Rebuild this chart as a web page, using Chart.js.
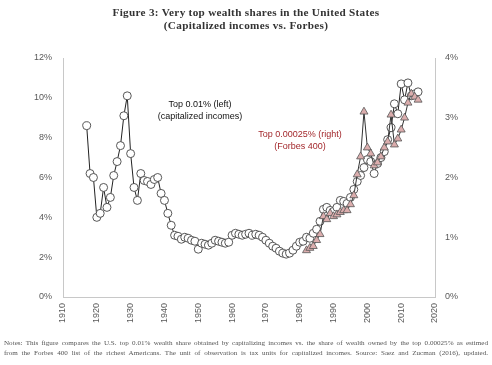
<!DOCTYPE html>
<html>
<head>
<meta charset="utf-8">
<script src="https://cdn.jsdelivr.net/npm/chart.js@4/dist/chart.umd.min.js"></script>
<style>
  html, body { margin:0; padding:0; background:#fff; }
  #wrap { position:relative; width:492px; height:365px; overflow:hidden; }
  #c { position:absolute; left:0; top:0; }
  #title { position:absolute; left:0; top:6px; width:492px; text-align:center;
    font-family:"Liberation Serif", "DejaVu Serif", serif; font-weight:bold; font-size:11.2px; letter-spacing:0.3px; line-height:13px; color:#333; }
  .note { position:absolute; left:4px; width:484px; text-align:justify; text-align-last:justify; white-space:nowrap;
    font-family:"Liberation Serif", "DejaVu Serif", serif; font-size:7.1px; line-height:9px; color:#555; }
</style>
</head>
<body>
<div id="wrap">
  <canvas id="c" width="492" height="365"></canvas>
  <div id="title">Figure 3: Very top wealth shares in the United States<br>(Capitalized incomes vs. Forbes)</div>
  <div class="note" style="top:339px">Notes: This figure compares the U.S. top 0.01% wealth share obtained by capitalizing incomes vs. the share of wealth owned by the top 0.00025% as estimed</div>
  <div class="note" style="top:349px">from the Forbes 400 list of the richest Americans. The unit of observation is tax units for capitalized incomes. Source: Saez and Zucman (2016), updated.</div>
</div>
<script>
// ---- Data ----
const capYears = [1917,1918,1919,1920,1921,1922,1923,1924,1925,1926,1927,1928,1929,1930,1931,1932,1933,1934,1935,1936,1937,1938,1939,1940,1941,1942,1943,1944,1945,1946,1947,1948,1949,1950,1951,1952,1953,1954,1955,1956,1957,1958,1959,1960,1961,1962,1963,1964,1965,1966,1967,1968,1969,1970,1971,1972,1973,1974,1975,1976,1977,1978,1979,1980,1981,1982,1983,1984,1985,1986,1987,1988,1989,1990,1991,1992,1993,1994,1995,1996,1997,1998,1999,2000,2001,2002,2003,2004,2005,2006,2007,2008,2009,2010,2011,2012,2013,2014,2015];
const capShares = [8.6,6.2,6.0,4.0,4.2,5.5,4.5,5.0,6.1,6.8,7.6,9.1,10.1,7.2,5.5,4.85,6.2,5.85,5.8,5.65,5.9,6.0,5.2,4.85,4.2,3.6,3.1,3.05,2.9,3.0,2.95,2.85,2.8,2.4,2.7,2.65,2.6,2.7,2.85,2.8,2.75,2.7,2.75,3.1,3.2,3.15,3.1,3.15,3.2,3.1,3.15,3.1,3.0,2.85,2.7,2.55,2.45,2.3,2.2,2.15,2.2,2.35,2.55,2.75,2.8,3.0,2.95,3.2,3.4,3.8,4.4,4.5,4.35,4.3,4.5,4.85,4.8,4.7,5.0,5.4,5.8,6.1,6.5,6.9,6.8,6.2,6.7,7.0,7.3,7.9,8.5,9.7,9.2,10.7,9.9,10.75,10.1,10.2,10.3];
const forbesYears = [1982,1983,1984,1985,1986,1987,1988,1989,1990,1991,1992,1993,1994,1995,1996,1997,1998,1999,2000,2001,2002,2003,2004,2005,2006,2007,2008,2009,2010,2011,2012,2013,2014,2015];
const forbesShares = [0.78,0.82,0.85,0.95,1.05,1.35,1.3,1.4,1.35,1.38,1.42,1.45,1.45,1.55,1.7,2.05,2.35,3.1,2.5,2.4,2.2,2.25,2.35,2.5,2.6,3.05,2.55,2.65,2.8,3.0,3.25,3.4,3.35,3.3];
const xTicks = [1910,1920,1930,1940,1950,1960,1970,1980,1990,2000,2010,2020];
const leftTicks = [0,2,4,6,8,10,12];
const rightTicks = [0,1,2,3,4];
const labelCap = ["Top 0.01% (left)", "(capitalized incomes)"];
const labelForbes = ["Top 0.00025% (right)", "(Forbes 400)"];

const capData = capYears.map((y,i)=>({x:y, y:capShares[i]}));
const forbesData = forbesYears.map((y,i)=>({x:y, y:forbesShares[i]}));

const tickFont = {family:"'Liberation Sans', Arial, sans-serif", size:9};
const tickColor = '#595959';
const axisColor = '#c8c8c8';

const annot = {
  id:'annot',
  afterDatasetsDraw(chart){
    const {ctx, scales} = chart;
    const xs = scales.x, yl = scales.yL;
    ctx.save();
    ctx.font = "9px 'Liberation Sans', Arial, sans-serif";
    ctx.textAlign = 'center';
    ctx.textBaseline = 'middle';
    ctx.fillStyle = '#111';
    let cx = xs.getPixelForValue(1950.5);
    ctx.fillText(labelCap[0], cx, yl.getPixelForValue(9.64));
    ctx.fillText(labelCap[1], cx, yl.getPixelForValue(9.04));
    ctx.fillStyle = '#a3282c';
    cx = xs.getPixelForValue(1980.1);
    ctx.fillText(labelForbes[0], cx, yl.getPixelForValue(8.18));
    ctx.fillText(labelForbes[1], cx, yl.getPixelForValue(7.58));
    ctx.restore();
  }
};

new Chart(document.getElementById('c'), {
  type:'line',
  data:{
    datasets:[
      {
        label:'Forbes', data:forbesData, yAxisID:'yR', order:0,
        borderColor:'#333', borderWidth:1,
        pointStyle:'triangle', pointRadius:4.6, pointBackgroundColor:'#dbadad',
        pointBorderColor:'#555', pointBorderWidth:0.8, tension:0
      },
      {
        label:'Cap', data:capData, yAxisID:'yL', order:1,
        borderColor:'#222', borderWidth:1,
        pointStyle:'circle', pointRadius:4, pointBackgroundColor:'#fff',
        pointBorderColor:'#444', pointBorderWidth:0.9, tension:0
      }
    ]
  },
  options:{
    responsive:false, animation:false,
    layout:{padding:{left:0,right:0,top:58,bottom:0}},
    plugins:{legend:{display:false}, tooltip:{enabled:false}, title:{display:false}},
    scales:{
      x:{
        type:'linear', min:1910, max:2020, position:'bottom',
        afterBuildTicks(s){ s.ticks = xTicks.map(v=>({value:v})); },
        afterFit(s){ s.height = 68; },
        grid:{drawOnChartArea:false, drawTicks:false},
        border:{display:true, color:axisColor, width:1},
        ticks:{autoSkip:false, minRotation:90, maxRotation:90, padding:6, color:tickColor, font:tickFont,
          callback:v=>String(v)}
      },
      yL:{
        type:'linear', position:'left', min:0, max:12,
        afterBuildTicks(s){ s.ticks = leftTicks.map(v=>({value:v})); },
        afterFit(s){ s.width = 63; },
        grid:{drawOnChartArea:false, drawTicks:false},
        border:{display:true, color:axisColor, width:1},
        ticks:{padding:11, color:tickColor, font:tickFont, callback:v=>v+'%'}
      },
      yR:{
        type:'linear', position:'right', min:0, max:4,
        afterBuildTicks(s){ s.ticks = rightTicks.map(v=>({value:v})); },
        afterFit(s){ s.width = 57; },
        grid:{drawOnChartArea:false, drawTicks:false},
        border:{display:true, color:axisColor, width:1},
        ticks:{padding:10, color:tickColor, font:tickFont, callback:v=>v+'%'}
      }
    }
  },
  plugins:[annot]
});
</script>
</body>
</html>
